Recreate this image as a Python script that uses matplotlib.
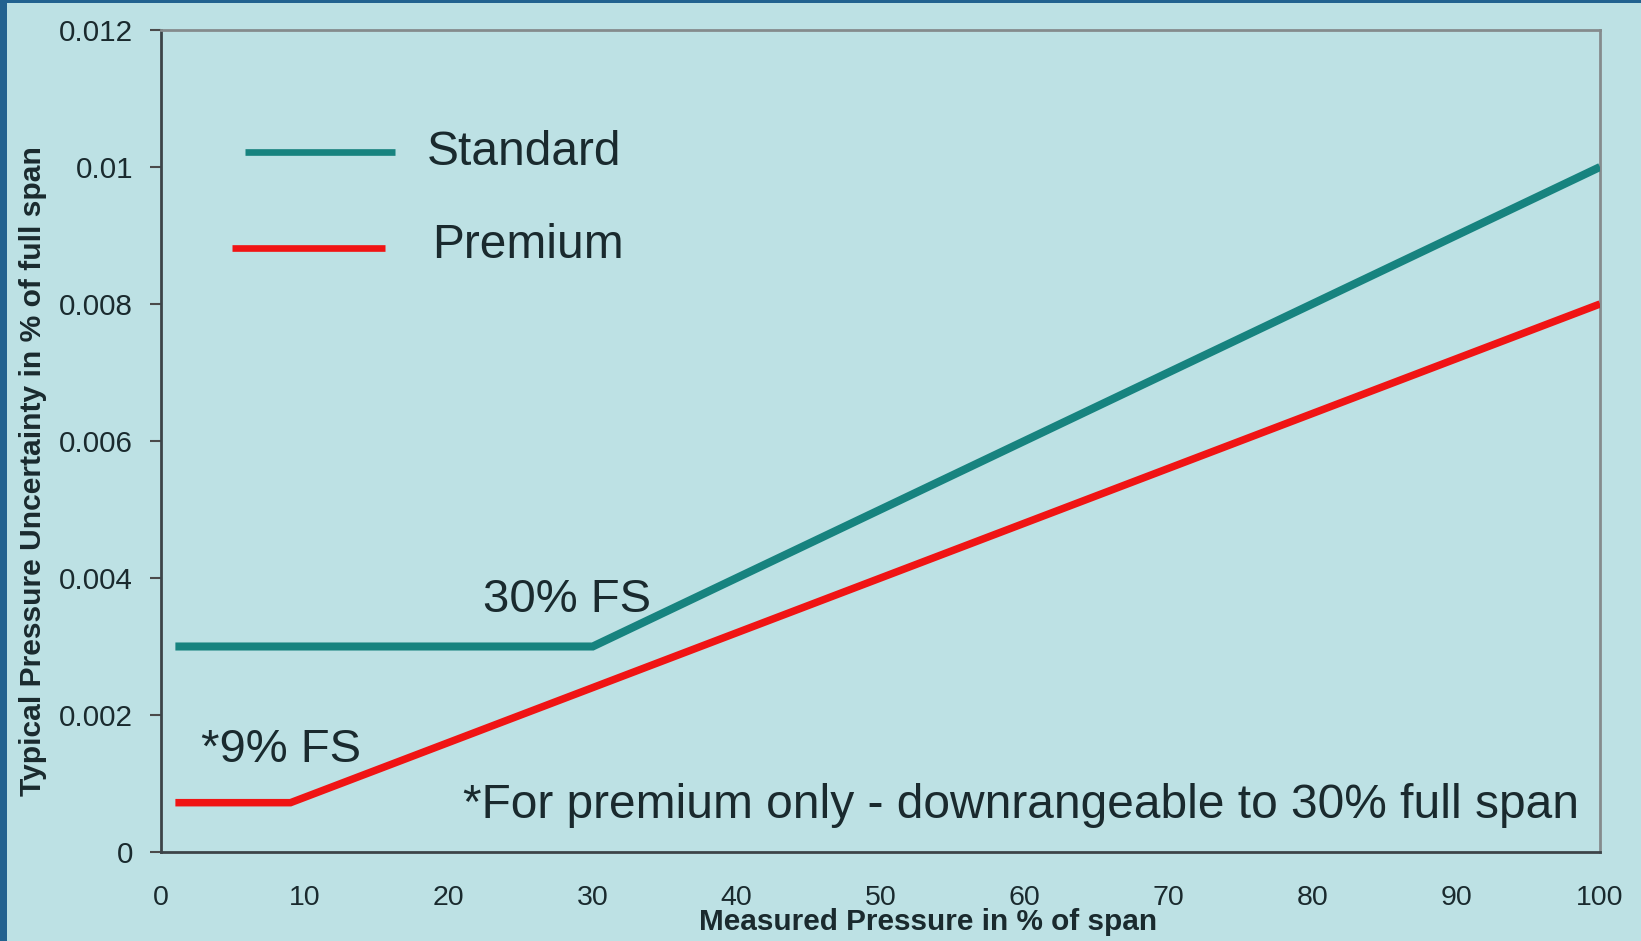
import matplotlib
matplotlib.use("Agg")
import matplotlib.pyplot as plt
from matplotlib.lines import Line2D
from matplotlib.patches import Rectangle

# Uncertainty vs. measured pressure
series_names = ["Standard", "Premium"]
standard_x = [1, 30, 100]
standard_y = [0.003, 0.003, 0.010]
premium_x = [1, 9, 100]
premium_y = [0.00072, 0.00072, 0.008]

x_ticks = [0, 10, 20, 30, 40, 50, 60, 70, 80, 90, 100]
y_ticks = [0, 0.002, 0.004, 0.006, 0.008, 0.010, 0.012]
y_tick_labels = ["0", "0.002", "0.004", "0.006", "0.008", "0.01", "0.012"]

x_label = "Measured Pressure in % of span"
y_label = "Typical Pressure Uncertainty in % of full span"
note_standard = "30% FS"
note_premium = "*9% FS"
footnote = "*For premium only - downrangeable to 30% full span"

BG = "#bde1e4"
TEAL = "#17837f"
RED = "#f01414"
TEXT = "#1a2a2e"

plt.rcParams["font.family"] = ["Liberation Sans", "DejaVu Sans"]

W, H = 1641, 941
fig = plt.figure(figsize=(W / 100, H / 100), dpi=100, facecolor=BG)


def fx(px):
    return px / W


def fy(py):
    return 1 - py / H


# slide border on the left and top
fig.patches.append(Rectangle((0, 0), fx(7), 1, transform=fig.transFigure,
                             facecolor="#22628f", edgecolor="none", zorder=0))
fig.patches.append(Rectangle((0, fy(3)), 1, 1 - fy(3), transform=fig.transFigure,
                             facecolor="#22628f", edgecolor="none", zorder=0))

ax = fig.add_axes([fx(161), fy(852), fx(1600) - fx(161), fy(30) - fy(852)])
ax.set_facecolor(BG)

ax.plot(standard_x, standard_y, color=TEAL, lw=5.8, solid_capstyle="butt",
        solid_joinstyle="miter", zorder=3)
ax.plot(premium_x, premium_y, color=RED, lw=5.4, solid_capstyle="butt",
        solid_joinstyle="miter", zorder=3)

ax.set_xlim(0, 100)
ax.set_ylim(0, 0.012)
ax.set_xticks(x_ticks)
ax.set_xticklabels([str(v) for v in x_ticks])
ax.set_yticks(y_ticks)
ax.set_yticklabels(y_tick_labels)
ax.tick_params(axis="x", length=0, pad=24, labelsize=20.5, labelcolor=TEXT)
ax.tick_params(axis="y", length=8, width=1.5, color="#4a4a4a", pad=12,
               labelsize=21.3, labelcolor=TEXT)

for side in ["left", "bottom"]:
    ax.spines[side].set_color("#3c4448")
    ax.spines[side].set_linewidth(2)
for side in ["top", "right"]:
    ax.spines[side].set_color("#858b8d")
    ax.spines[side].set_linewidth(2)

# legend drawn by hand
legend_rows = [
    (series_names[0], TEAL, 245, 395, 152, 427, 165),
    (series_names[1], RED, 232, 385, 248, 432, 258),
]
for name, col, x0, x1, ly, tx, ty in legend_rows:
    fig.add_artist(Line2D([fx(x0), fx(x1)], [fy(ly), fy(ly)], color=col, lw=4.8,
                          solid_capstyle="butt", transform=fig.transFigure))
    fig.text(fx(tx), fy(ty), name, fontsize=34.5, color=TEXT, va="baseline", ha="left")

# annotations
fig.text(fx(483), fy(612), note_standard, fontsize=34, color=TEXT, va="baseline")
fig.text(fx(201), fy(762), note_premium, fontsize=34, color=TEXT, va="baseline")
fig.text(fx(463), fy(818), footnote, fontsize=34.5, color=TEXT, va="baseline")

# axis titles
fig.text(fx(928), fy(922), x_label, fontsize=21.4, fontweight="bold", color=TEXT,
         ha="center", va="center")
fig.text(fx(33), fy(471), y_label, fontsize=21.6, fontweight="bold", color=TEXT,
         ha="center", va="center", rotation=90)

fig.savefig("out.png", dpi=100, facecolor=BG)
